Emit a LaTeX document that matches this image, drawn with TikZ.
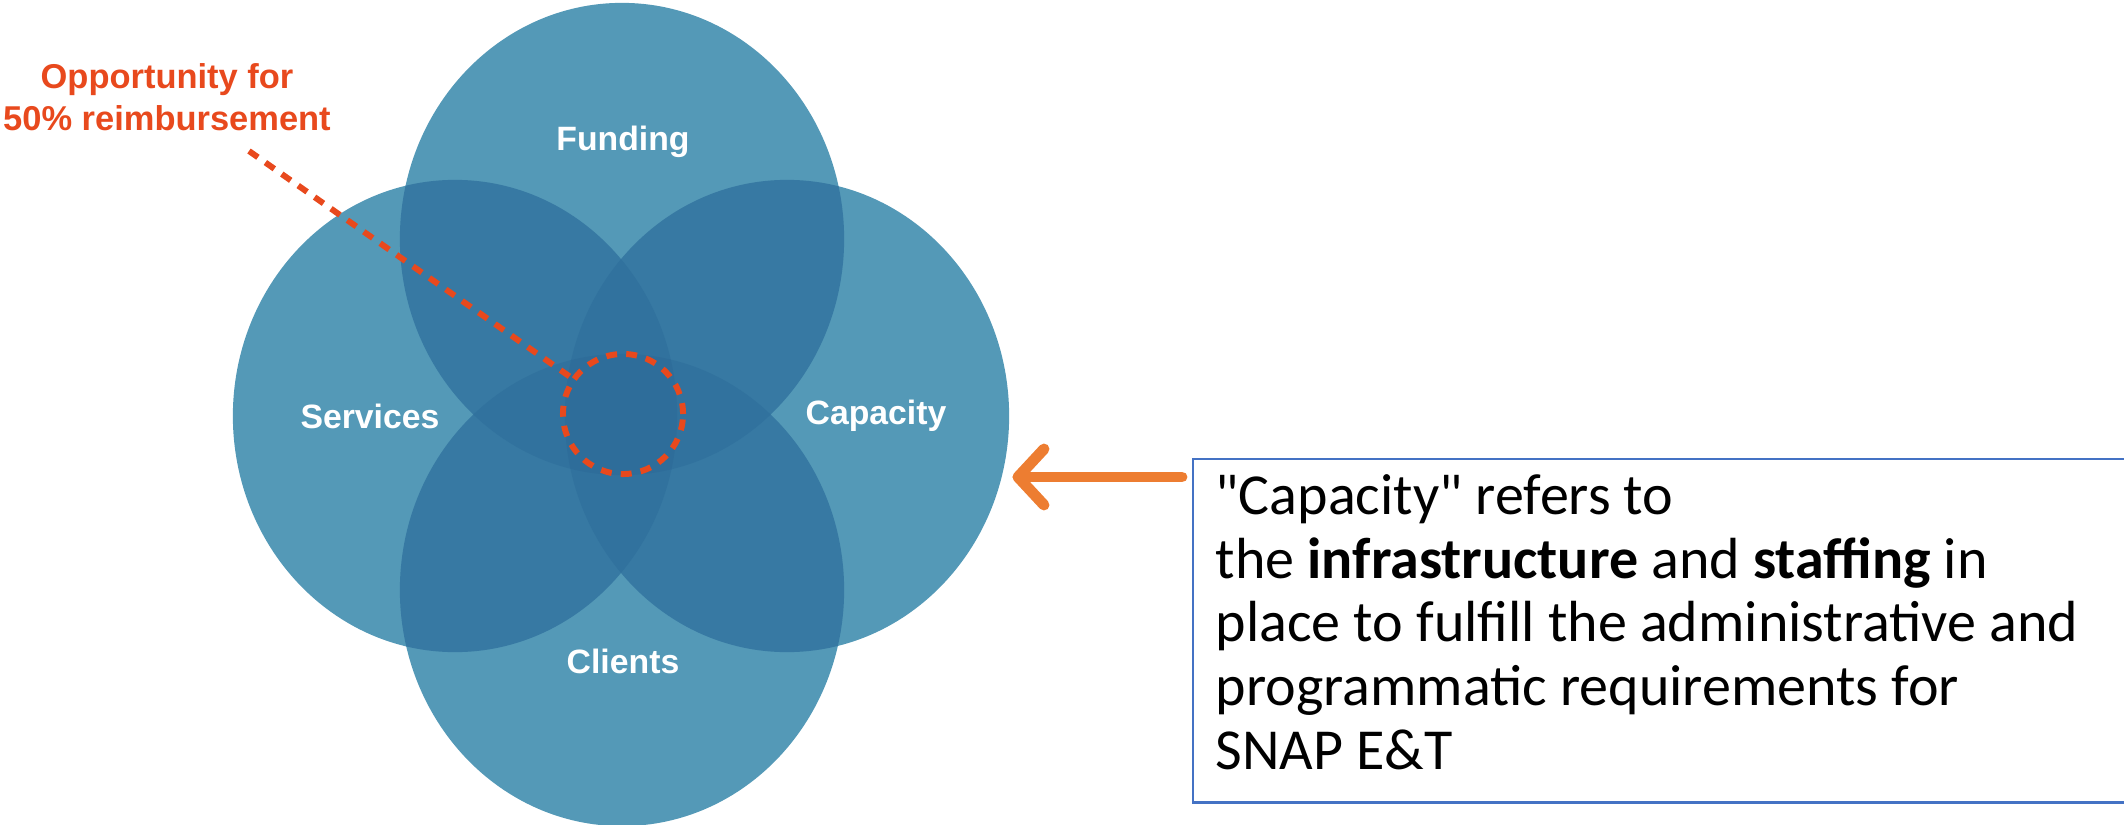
\documentclass[tikz,border=0pt]{standalone}
\usepackage{fontspec}
\newfontfamily\labelfont{Liberation Sans}
\newfontfamily\notefont{Carlito}
\usetikzlibrary{calc}
\definecolor{vennone}{RGB}{84,153,183}
\definecolor{venntwo}{RGB}{55,121,163}
\definecolor{vennthree}{RGB}{49,114,158}
\definecolor{vennfour}{RGB}{46,109,154}
\definecolor{accentred}{RGB}{232,73,29}
\definecolor{arroworange}{RGB}{237,125,49}
\definecolor{boxblue}{RGB}{68,114,196}
\tikzset{
  ellF/.style={insert path={(622,239) ellipse [x radius=2.22cm, y radius=2.36cm]}},
  ellS/.style={insert path={(455,416) ellipse [x radius=2.22cm, y radius=2.36cm]}},
  ellC/.style={insert path={(787,416) ellipse [x radius=2.22cm, y radius=2.36cm]}},
  ellL/.style={insert path={(622,590) ellipse [x radius=2.22cm, y radius=2.36cm]}},
  vennlabel/.style={text=white, font={\labelfont\fontsize{9.6}{11}\selectfont\bfseries}, inner sep=0pt},
  redlabel/.style={text=accentred, align=center, font={\labelfont\fontsize{9.8}{12.1}\selectfont\bfseries}, inner sep=0pt},
  reddash/.style={draw=accentred, line width=1.7pt, dash pattern=on 3.1pt off 2.6pt},
  notebox/.style={draw=boxblue, line width=0.7pt, inner sep=0pt, anchor=north west},
  notetext/.style={align=left, inner sep=0pt, anchor=north west, font={\notefont\fontsize{16.5}{18.1}\selectfont}},
  fatarrow/.style={draw=arroworange, line width=3.1pt, line cap=round, line join=round},
}
\begin{document}
\begin{tikzpicture}[x=0.01cm, y=-0.01cm]
\useasboundingbox (0,0) rectangle (2124,824);

% single layer of the four sets
\fill[vennone, ellF];
\fill[vennone, ellS];
\fill[vennone, ellC];
\fill[vennone, ellL];

% pairwise overlaps
\begin{scope}
  \clip[ellF];
  \fill[venntwo, ellS]; \fill[venntwo, ellC]; \fill[venntwo, ellL];
\end{scope}
\begin{scope}
  \clip[ellS];
  \fill[venntwo, ellC]; \fill[venntwo, ellL];
\end{scope}
\begin{scope}
  \clip[ellC];
  \fill[venntwo, ellL];
\end{scope}

% triple overlaps
\begin{scope}
  \clip[ellF]; \clip[ellS];
  \fill[vennthree, ellC]; \fill[vennthree, ellL];
\end{scope}
\begin{scope}
  \clip[ellF]; \clip[ellC];
  \fill[vennthree, ellL];
\end{scope}
\begin{scope}
  \clip[ellS]; \clip[ellC];
  \fill[vennthree, ellL];
\end{scope}

% centre where all four meet
\begin{scope}
  \clip[ellF]; \clip[ellS]; \clip[ellC];
  \fill[vennfour, ellL];
\end{scope}

% set names
\node[vennlabel] (funding)  at (623,142) {Funding};
\node[vennlabel] (services) at (370,416) {Services};
\node[vennlabel] (capacity) at (876,416) {Capacity};
\node[vennlabel] (clients)  at (623,661) {Clients};

% callout on the common region
\node[redlabel] (opp) at (167,97) {Opportunity for\\50\% reimbursement};
\node[circle, minimum size=1.2cm, inner sep=0pt, reddash] (ring) at (623,414) {};
\coordinate (lead) at (249,151);
\draw[reddash] (lead) -- (ring);

% note box and pointer
\node[notebox, minimum width=9.5cm, minimum height=3.43cm] (box) at (1192,458) {};
\node[notetext] (note) at (1215,474) {"Capacity" refers to\\the \textbf{infrastructure} and \textbf{staffing} in\\place to fulfill the administrative and\\programmatic requirements for\\SNAP E\&T};
\coordinate (tail) at ($(box.north west)+(-10,19)$);
\coordinate (tip) at (1018,477);
\draw[fatarrow] (tail) -- (tip);
\draw[fatarrow] ($(tip)+(26,-28)$) -- (tip) -- ($(tip)+(26,28)$);
\end{tikzpicture}
\end{document}
